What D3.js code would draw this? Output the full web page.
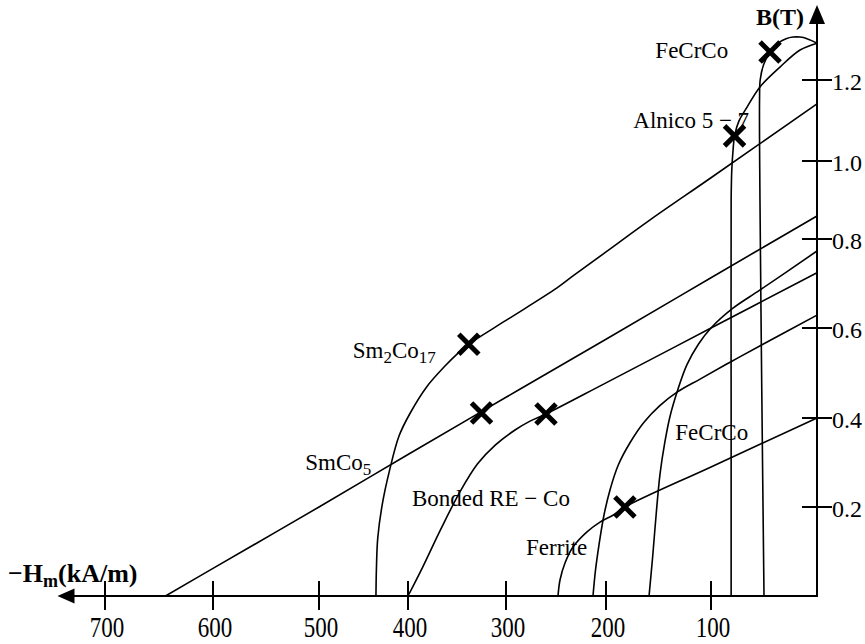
<!DOCTYPE html>
<html>
<head>
<meta charset="utf-8">
<script src="https://cdn.jsdelivr.net/npm/d3@7"></script>
<style>
body { margin: 0; background: #fff; }
text { font-family: "Liberation Serif", "Times New Roman", serif; fill: #000; }
</style>
</head>
<body>
<svg id="chart" width="865" height="644"></svg>
<script>
// tick values on the two axes
var hTicks = [100, 200, 300, 400, 500, 600, 700];
var bTicks = [0.2, 0.4, 0.6, 0.8, 1.0, 1.2];

// demagnetisation curves, [-H (kA/m), B (T)]
var sm2co17 = [[436, 0], [435.5, 0.06], [434, 0.13], [429, 0.205], [421, 0.28], [410, 0.36],
    [398, 0.41], [381, 0.469], [362, 0.516], [350, 0.542], [338, 0.564], [300, 0.617],
    [249, 0.69], [233, 0.717], [200, 0.771], [158, 0.849], [100, 0.957], [0, 1.141]];
var smco5 = [[644, 0], [600, 0.062], [500, 0.2], [400, 0.318], [300, 0.446], [200, 0.575],
    [100, 0.713], [0, 0.859]];
var bondedReCo = [[400, 0], [385, 0.065], [367, 0.148], [347, 0.234], [329, 0.297], [311, 0.339],
    [291, 0.373], [276, 0.393], [260, 0.409], [200, 0.478], [100, 0.6], [0, 0.724]];
var ferrite = [[248, 0], [246, 0.036], [241, 0.074], [233, 0.11], [219, 0.144], [206, 0.166],
    [193, 0.182], [182, 0.2], [100, 0.29], [0, 0.4]];
var otherCurve = [[213, 0], [210.5, 0.058], [207, 0.115], [202, 0.182], [196, 0.24], [188, 0.296],
    [177, 0.345], [164, 0.39], [149, 0.427], [132, 0.458], [110, 0.487], [82, 0.524],
    [51, 0.564], [0, 0.629]];
var fecrcoLow = [[159, 0], [155.5, 0.09], [152, 0.19], [148.5, 0.275], [144, 0.345], [139, 0.404],
    [132, 0.46], [123, 0.518], [112, 0.564], [100, 0.6], [79, 0.645], [54, 0.685], [0, 0.773]];
var alnico = [[81, 0], [81, 0.44], [81, 0.9], [80.4, 0.977], [79.2, 1.027], [77.8, 1.062],
    [73.6, 1.099], [66, 1.133], [53.8, 1.183], [34.9, 1.232], [16, 1.274], [0, 1.291]];
var fecrcoHigh = [[50, 0], [52, 0.44], [53.8, 0.9], [54.2, 1.151], [53.6, 1.2], [50.5, 1.237],
    [44.3, 1.269], [36.8, 1.291], [29.2, 1.302], [22.6, 1.306], [16, 1.306], [9.4, 1.302], [0, 1.291]];

// working points (crosses)
var workPoints = [[338, 0.564], [325, 0.411], [260, 0.409], [182, 0.2], [77.8, 1.062], [44.3, 1.269]];

// curve names, with [-H, B] where the text starts
var labels = [
    { parts: [["FeCrCo"]], h: 153, b: 1.254 },
    { parts: [["Alnico 5 \u2212 7"]], h: 174, b: 1.081 },
    { parts: [["Sm"], ["2", 1], ["Co"], ["17", 1]], h: 462, b: 0.533 },
    { parts: [["SmCo"], ["5", 1]], h: 513, b: 0.283 },
    { parts: [["Bonded RE \u2212 Co"]], h: 396, b: 0.202 },
    { parts: [["Ferrite"]], h: 280, b: 0.092 },
    { parts: [["FeCrCo"]], h: 134, b: 0.351 }
];

var svg = d3.select('#chart');

// the hand-drawn axes are not evenly spaced, so the scales are piecewise
var x = d3.scaleLinear()
    .domain([0, 100, 200, 300, 400, 500, 600, 700])
    .range([817, 711, 606, 506, 408, 319, 213, 105]);
var y = d3.scaleLinear()
    .domain([0, 0.2, 0.4, 0.6, 0.8, 1.0, 1.2])
    .range([596, 507, 418, 328, 239, 161, 80]);

var hEnd = 744, bEnd = 1.385;

var line = d3.line()
    .x(function (d) { return x(d[0]); })
    .y(function (d) { return y(d[1]); })
    .curve(d3.curveCatmullRom.alpha(0.5));

var curves = [sm2co17, smco5, bondedReCo, ferrite, otherCurve, fecrcoLow, alnico, fecrcoHigh];
svg.selectAll('.curve')
    .data(curves)
    .enter()
    .append('path')
    .attr('class', 'curve')
    .attr('d', line)
    .style('fill', 'none')
    .style('stroke', '#000')
    .style('stroke-width', 1.6);

// axes
var x0 = x(0), y0 = y(0);
svg.append('line')
    .attr('x1', x(hEnd) + 6).attr('y1', y0)
    .attr('x2', x0 + 1).attr('y2', y0)
    .style('stroke', '#000').style('stroke-width', 2);
svg.append('line')
    .attr('x1', x0).attr('y1', y0 + 1)
    .attr('x2', x0).attr('y2', y(bEnd) + 6)
    .style('stroke', '#000').style('stroke-width', 2);
svg.append('path')
    .attr('d', 'M' + x(hEnd) + ',' + y0 + 'l17,-7.5v15z')
    .style('fill', '#000');
svg.append('path')
    .attr('d', 'M' + x0 + ',' + y(bEnd) + 'l-8,19h16z')
    .style('fill', '#000');

// ticks crossing the axes
svg.selectAll('.xtick')
    .data(hTicks)
    .enter()
    .append('line')
    .attr('class', 'xtick')
    .attr('x1', function (d) { return x(d); })
    .attr('x2', function (d) { return x(d); })
    .attr('y1', y0 - 15)
    .attr('y2', y0 + 14)
    .style('stroke', '#000').style('stroke-width', 2);
svg.selectAll('.xlabel')
    .data(hTicks)
    .enter()
    .append('text')
    .attr('class', 'xlabel')
    .attr('transform', function (d) { return 'translate(' + (x(d) + 2) + ',' + 637 + ') scale(1,1.25)'; })
    .attr('text-anchor', 'middle')
    .style('font-size', '23px')
    .text(function (d) { return d; });

svg.selectAll('.ytick')
    .data(bTicks)
    .enter()
    .append('line')
    .attr('class', 'ytick')
    .attr('x1', x0 - 15)
    .attr('x2', x0 + 15)
    .attr('y1', function (d) { return y(d); })
    .attr('y2', function (d) { return y(d); })
    .style('stroke', '#000').style('stroke-width', 2);
svg.selectAll('.ylabel')
    .data(bTicks)
    .enter()
    .append('text')
    .attr('class', 'ylabel')
    .attr('x', x0 + 15)
    .attr('y', function (d) { return y(d) + 9.5; })
    .style('font-size', '24px')
    .text(function (d) { return d3.format('.1f')(d); });

// axis titles
var xt = svg.append('text')
    .attr('x', 8).attr('y', 582)
    .style('font-size', '26px').style('font-weight', 'bold');
xt.append('tspan').text('\u2212H');
xt.append('tspan').attr('dy', 5).style('font-size', '18px').text('m');
xt.append('tspan').attr('dy', -5).text('(kA/m)');

svg.append('text')
    .attr('x', 756).attr('y', 25)
    .style('font-size', '24px').style('font-weight', 'bold')
    .text('B(T)');

// curve names
labels.forEach(function (l) {
    var t = svg.append('text')
        .attr('x', x(l.h))
        .attr('y', y(l.b))
        .style('font-size', '23px');
    var low = false;
    l.parts.forEach(function (p) {
        var sub = !!p[1];
        var dy = sub && !low ? 5 : (!sub && low ? -5 : 0);
        t.append('tspan')
            .attr('dy', dy)
            .style('font-size', sub ? '17px' : '23px')
            .text(p[0]);
        low = sub;
    });
});

// crosses at the working points
svg.selectAll('.cross')
    .data(workPoints)
    .enter()
    .append('path')
    .attr('class', 'cross')
    .attr('transform', function (d) { return 'translate(' + x(d[0]) + ',' + y(d[1]) + ')'; })
    .attr('d', 'M-10,-10L10,10M-10,10L10,-10')
    .style('stroke', '#000')
    .style('stroke-width', 5);
</script>
</body>
</html>
